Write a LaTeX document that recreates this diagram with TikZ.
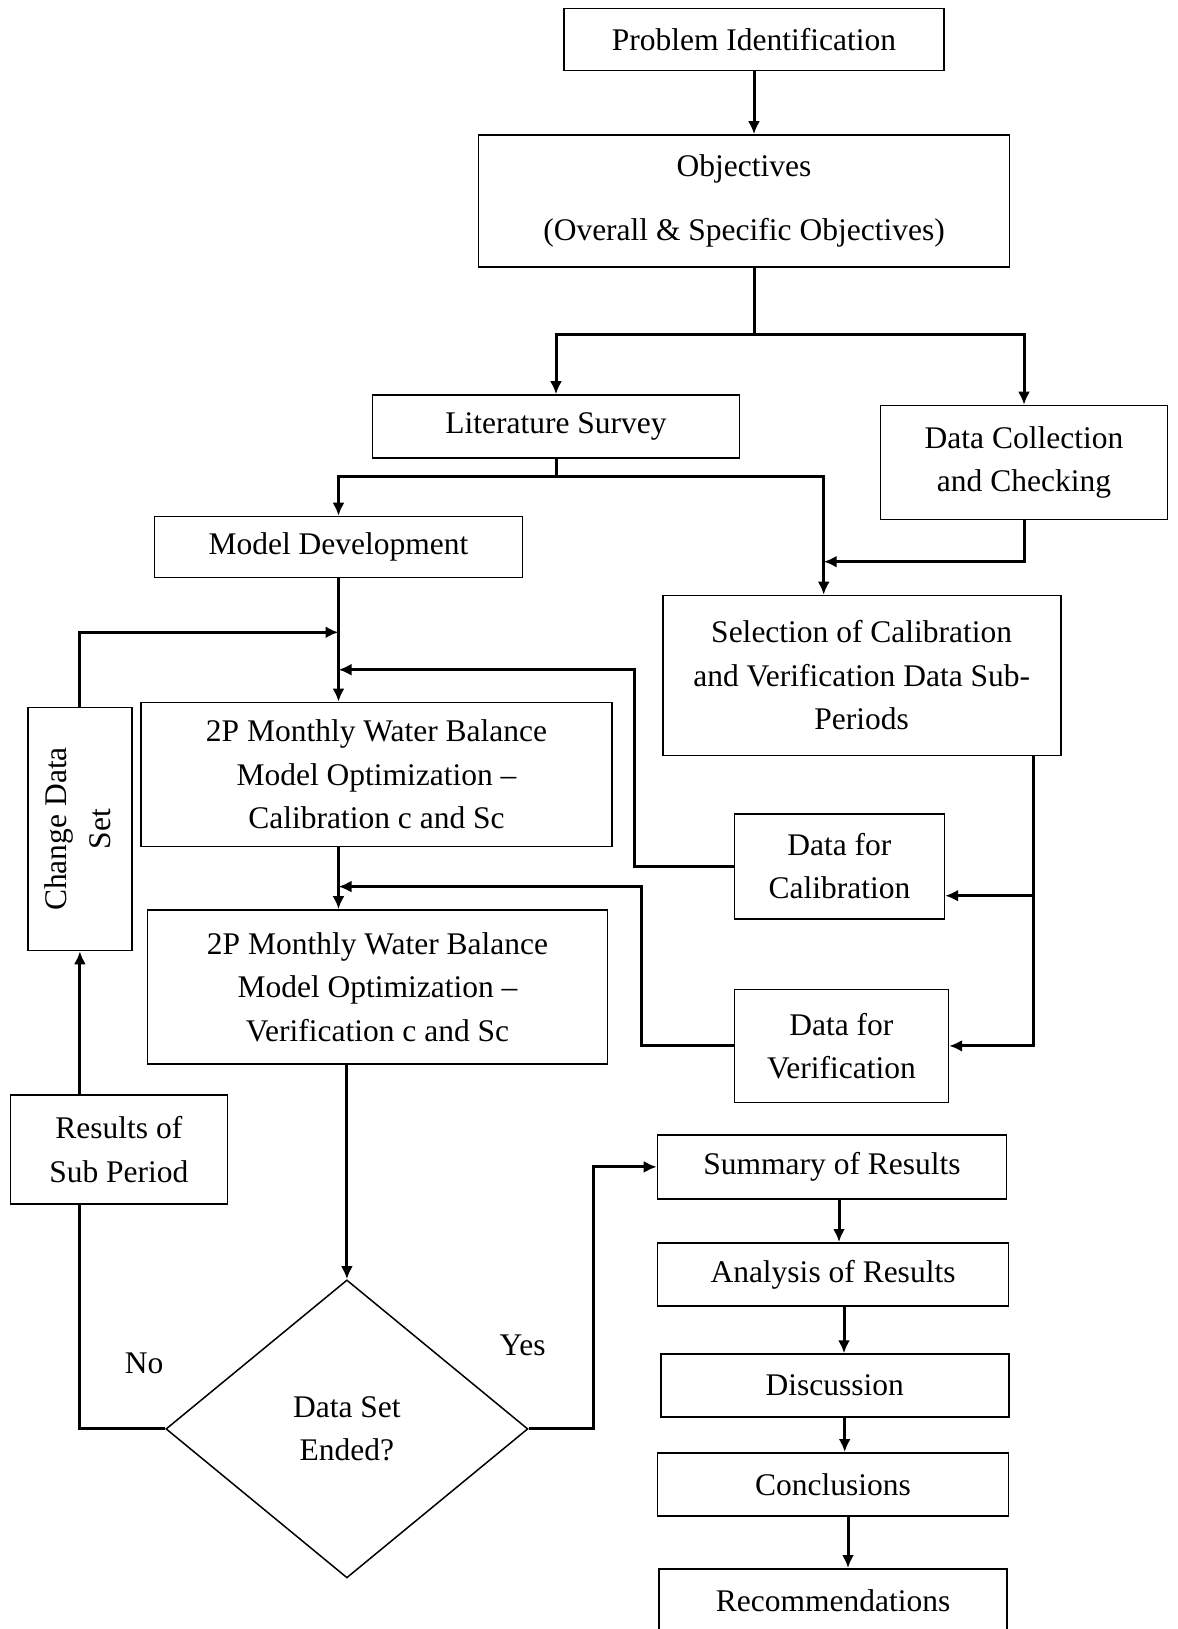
\documentclass[tikz,border=0pt]{standalone}
\usepackage{amsmath}
\usepackage{graphicx}
\usepackage{fontspec}
\setmainfont{Liberation Serif}
\usetikzlibrary{shapes.geometric, arrows.meta, positioning, calc}

\begin{document}
\begin{tikzpicture}[x=1pt, y=1pt, node distance=100pt, font=\fontsize{31.5}{43.5}\selectfont]
\tikzstyle{decision} = [diamond, minimum width=362pt, minimum height=298pt, inner sep=0pt, align=center, draw=black, line width=1.5pt]
\tikzstyle{block} = [rectangle, minimum width=350pt, minimum height=63pt, align=center, draw=black, fill=white, line width=1.6pt]
\tikzstyle{line} = [draw, line width=3pt, -{Latex[length=13pt, width=12pt]}]
\tikzstyle{link} = [draw, line width=3pt]

\useasboundingbox (0,0) rectangle (1177,-1629);

\node (prob) [block, minimum width=380pt, minimum height=62pt] at (754,-39.5) {Problem Identification};
\node (obj) [block, below of=prob, xshift=-10pt, yshift=-61.5pt, minimum width=531pt, minimum height=132pt] {Objectives\\[21pt](Overall \& Specific Objectives)};
\node (lit) [block, below of=obj, xshift=-188pt, yshift=-125.5pt, minimum width=367pt] {Literature Survey};
\node (dcol) [block, right of=lit, xshift=368pt, yshift=-36pt, minimum width=287pt, minimum height=114pt] {Data Collection\\and Checking};
\node (model) [block, below of=lit, xshift=-217.5pt, yshift=-20.5pt, minimum width=368pt, minimum height=61pt] {Model Development};
\node (sel) [block, below of=dcol, xshift=-162.3pt, yshift=-113pt, minimum width=398pt, minimum height=160pt] {Selection of Calibration\\and Verification Data Sub-\\Periods};
\node (cal) [block, below of=model, xshift=38pt, yshift=-127.4pt, minimum width=471pt, minimum height=144pt] {2P Monthly Water Balance\\Model Optimization --\\Calibration c and Sc};
\node (dfc) [block, below of=sel, xshift=-22.3pt, yshift=-90.7pt, minimum width=210pt, minimum height=105pt] {Data for\\Calibration};
\node (ver) [block, below of=cal, xshift=1pt, yshift=-112.5pt, minimum width=460pt, minimum height=154pt] {2P Monthly Water Balance\\Model Optimization --\\Verification c and Sc};
\node (dfv) [block, below of=dfc, xshift=2pt, yshift=-79.7pt, minimum width=214pt, minimum height=113pt] {Data for\\Verification};
\node (chg) [block, left of=cal, xshift=-196.6pt, yshift=-54.6pt, minimum width=104pt, minimum height=243pt] {\rotatebox{90}{\begin{tabular}{@{}c@{}}Change Data\\Set\end{tabular}}};
\node (dec) [decision, below of=ver, xshift=-30.6pt, yshift=-342pt] {Data Set\\Ended?};
\node (sum) [block, below of=dfv, xshift=-9.4pt, yshift=-21pt, minimum width=349pt, minimum height=64pt] {Summary of Results};
\node (ana) [block, below of=sum, xshift=1pt, yshift=-7.4pt, minimum width=351pt] {Analysis of Results};
\node (disc) [block, below of=ana, xshift=1.7pt, yshift=-11.3pt, minimum width=348pt] {Discussion};
\node (conc) [block, below of=disc, xshift=-1.7pt, yshift=1.3pt, minimum width=351pt] {Conclusions};
\node (rec) [block, below of=conc, yshift=-16pt, minimum width=348pt] {Recommendations};

\node (no) at ($(dec.west)+(-21,66)$) {No};
\node (yes) at ($(dec.east)+(-6,84)$) {Yes};

% top part
\path [line] (prob) -- (prob |- obj.north);
\path [link] (obj.south -| prob.south) -- ++(0,-66.5) coordinate (s1);
\path [line] (s1) -| (lit);
\path [line] (s1) -| (dcol);
\path [link] (lit.south) -- ++(0,-17.7) coordinate (s2);
\path [line] (s2) -| (model);
\coordinate (selin) at ([xshift=-38pt]sel.north);
\path [line] (s2) -| (selin);
\path [line] (dcol.south) |- ([yshift=33pt]selin);

% calibration and verification
\coordinate (j1) at ($(model.south)+(0,-54)$);
\coordinate (j2) at ($(model.south)+(0,-91.4)$);
\coordinate (j3) at ($(cal.south -| model)+(0,-39.4)$);
\path [line] (model) -- (model |- cal.north);
\path [line] (chg) |- (j1);
\path [line] (dfc.west) -- ++(-98.7,0) |- (j2);
\path [line] (model |- cal.south) -- (model |- ver.north);
\path [line] (dfv.west) -- ++(-92.4,0) |- (j3);
\coordinate (sr) at ([xshift=172pt]sel.south);
\coordinate (dfcin) at ($(dfc.east)+(0,-29.5)$);
\path [line] (sr) |- (dfv);
\path [line] (dfcin -| sr) -- (dfcin);

% decision
\path [line] (ver.south -| dec) -- (dec);
\path [line] (dec) -| (chg);
\path [line] (dec.east) -- ++(64.5,0) |- (sum);

% results
\path [line] ($(sum.south)+(7,0)$) -- ($(sum.south |- ana.north)+(7,0)$);
\path [line] ($(ana.south)+(11,0)$) -- ($(ana.south |- disc.north)+(11,0)$);
\path [line] ($(disc.south)+(10,0)$) -- ($(disc.south |- conc.north)+(10,0)$);
\path [line] ($(conc.south)+(15,0)$) -- ($(conc.south |- rec.north)+(15,0)$);

\node (res) [block, below of=chg, xshift=39pt, yshift=-220.5pt, minimum width=217pt, minimum height=109pt] {Results of\\Sub Period};

\end{tikzpicture}
\end{document}
